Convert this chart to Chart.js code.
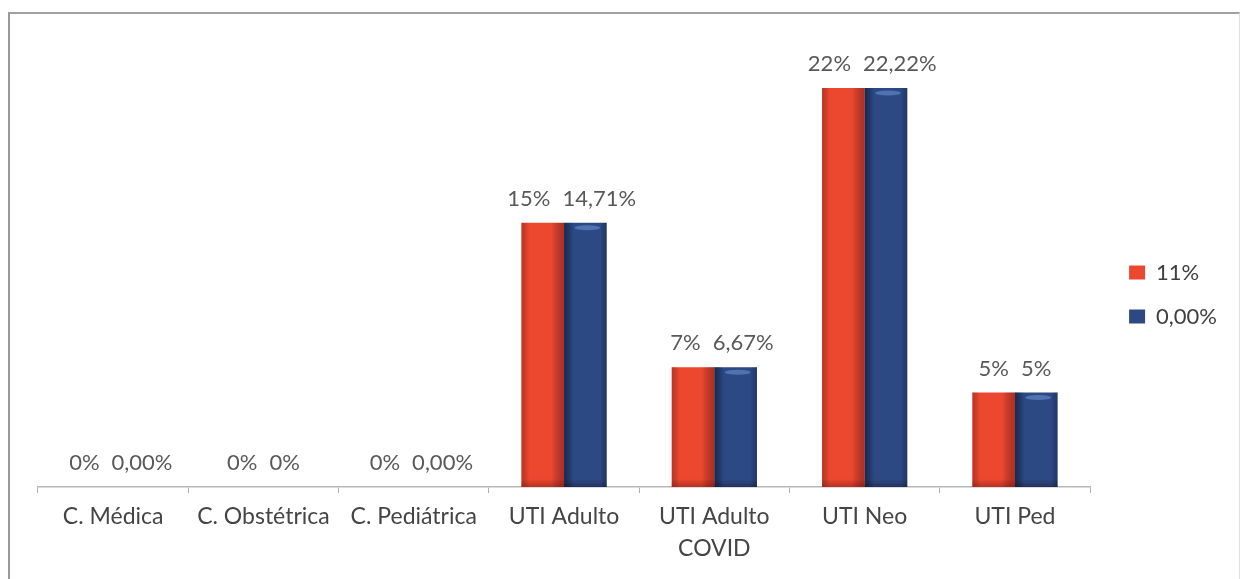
<!DOCTYPE html>
<html>
<head>
<meta charset="utf-8">
<script src="https://cdn.jsdelivr.net/npm/chart.js@4"></script>
<style>
  body { margin: 0; background: #fff; }
  #moldura { position: absolute; left: 8px; top: 12px; width: 1229px; height: 600px;
             border-left: 2px solid #9a9a9a; border-top: 2px solid #a0a0a0; border-right: 1px solid #e2e2e2; }
  #grafico { position: absolute; left: 0; top: 0; }
</style>
</head>
<body>
<div id="moldura"></div>
<canvas id="grafico" width="1241" height="579"></canvas>
<script>
// dados do grafico
const categorias = ['C. Médica', 'C. Obstétrica', 'C. Pediátrica', 'UTI Adulto', ['UTI Adulto', 'COVID'], 'UTI Neo', 'UTI Ped'];
const nomesSeries = ['11%', '0,00%'];
const serieVermelha = [0, 0, 0, 14.71, 6.67, 22.22, 5.26];
const serieAzul = [0, 0, 0, 14.71, 6.67, 22.22, 5.26];
const rotulosVermelha = ['0%', '0%', '0%', '15%', '7%', '22%', '5%'];
const rotulosAzul = ['0,00%', '0%', '0,00%', '14,71%', '6,67%', '22,22%', '5%'];
const rotulos = [rotulosVermelha, rotulosAzul];

const ctx = document.getElementById('grafico');

// sombreado tipo "3D" nas barras
const sombreado = {
  id: 'sombreado',
  afterDatasetsDraw(chart) {
    const c = chart.ctx;
    chart.data.datasets.forEach((ds, di) => {
      chart.getDatasetMeta(di).data.forEach(bar => {
        const p = bar.getProps(['x', 'y', 'width', 'base'], true);
        const h = p.base - p.y;
        if (h <= 0) return;
        const l = p.x - p.width / 2, r = p.x + p.width / 2;
        const g = c.createLinearGradient(l, 0, r, 0);
        if (di === 0) {
          g.addColorStop(0, 'rgba(110,20,15,0.35)');
          g.addColorStop(0.18, 'rgba(0,0,0,0)');
          g.addColorStop(0.7, 'rgba(0,0,0,0)');
          g.addColorStop(1, 'rgba(100,15,25,0.45)');
        } else {
          g.addColorStop(0, 'rgba(5,15,40,0.55)');
          g.addColorStop(0.22, 'rgba(0,0,0,0)');
          g.addColorStop(0.85, 'rgba(0,0,0,0)');
          g.addColorStop(1, 'rgba(5,15,40,0.3)');
        }
        c.save();
        c.fillStyle = g;
        c.fillRect(l, p.y, p.width, h);
        // faixa escura em baixo
        const gb = c.createLinearGradient(0, p.base - 8, 0, p.base);
        gb.addColorStop(0, 'rgba(60,0,0,0)');
        gb.addColorStop(1, di === 0 ? 'rgba(90,10,10,0.35)' : 'rgba(0,0,20,0.3)');
        c.fillStyle = gb;
        c.fillRect(l, p.base - 8, p.width, 8);
        if (di === 1) {
          c.fillStyle = 'rgba(110,150,215,0.55)';
          c.beginPath();
          c.ellipse(p.x + 2, p.y + 5, p.width * 0.3, 2.5, 0, 0, Math.PI * 2);
          c.fill();
        }
        c.restore();
      });
    });
  }
};

// rotulos em cima das barras
const rotulosBarras = {
  id: 'rotulosBarras',
  afterDatasetsDraw(chart) {
    const c = chart.ctx;
    c.save();
    c.font = '22px Lato';
    c.fillStyle = '#595959';
    c.textAlign = 'center';
    c.textBaseline = 'alphabetic';
    const m0 = chart.getDatasetMeta(0).data, m1 = chart.getDatasetMeta(1).data;
    categorias.forEach((cat, i) => {
      const t0 = rotulos[0][i], t1 = rotulos[1][i];
      const w0 = c.measureText(t0).width, w1 = c.measureText(t1).width;
      let x0 = m0[i].x, x1 = m1[i].x;
      // afasta os rotulos quando se encostam
      const falta = w0 / 2 + w1 / 2 + 12 - (x1 - x0);
      if (falta > 0) { x0 -= falta / 2; x1 += falta / 2; }
      c.fillText(t0, x0, Math.min(m0[i].y, m0[i].base) - 17);
      c.fillText(t1, x1, Math.min(m1[i].y, m1[i].base) - 17);
    });
    c.restore();
  }
};

function desenhar() {
  new Chart(ctx, {
    type: 'bar',
    data: {
      labels: categorias,
      datasets: [{
        label: nomesSeries[0],
        data: serieVermelha,
        backgroundColor: '#ec4830',
        borderWidth: 0
      }, {
        label: nomesSeries[1],
        data: serieAzul,
        backgroundColor: '#2c4984',
        borderWidth: 0
      }]
    },
    options: {
      responsive: false,
      animation: false,
      devicePixelRatio: 1,
      categoryPercentage: 0.567,
      barPercentage: 1.0,
      layout: { padding: { left: 38, top: 30, right: 14, bottom: 20 } },
      scales: {
        x: {
          grid: { display: true, drawOnChartArea: false, drawTicks: true, tickLength: 6, color: '#b0b0b0', offset: true },
          border: { display: true, color: '#b8b8b8', width: 1.5 },
          ticks: { color: '#454545', padding: 7, maxRotation: 0, autoSkip: false,
                   font: { family: 'Lato', size: 23, lineHeight: 1.4 } },
          afterFit: s => { s.height = 72; }
        },
        y: {
          position: 'right',
          min: 0,
          max: 25.45,
          grid: { display: false },
          border: { display: false },
          ticks: { display: false },
          afterFit: s => { s.width = 17; }
        }
      },
      plugins: {
        legend: {
          position: 'right',
          labels: { boxWidth: 16, boxHeight: 14, padding: 22, color: '#404040',
                    font: { family: 'Lato', size: 22 } }
        },
        tooltip: { enabled: false }
      }
    },
    plugins: [sombreado, rotulosBarras]
  });
}

document.fonts.load('22px Lato').then(desenhar, desenhar);
</script>
</body>
</html>
